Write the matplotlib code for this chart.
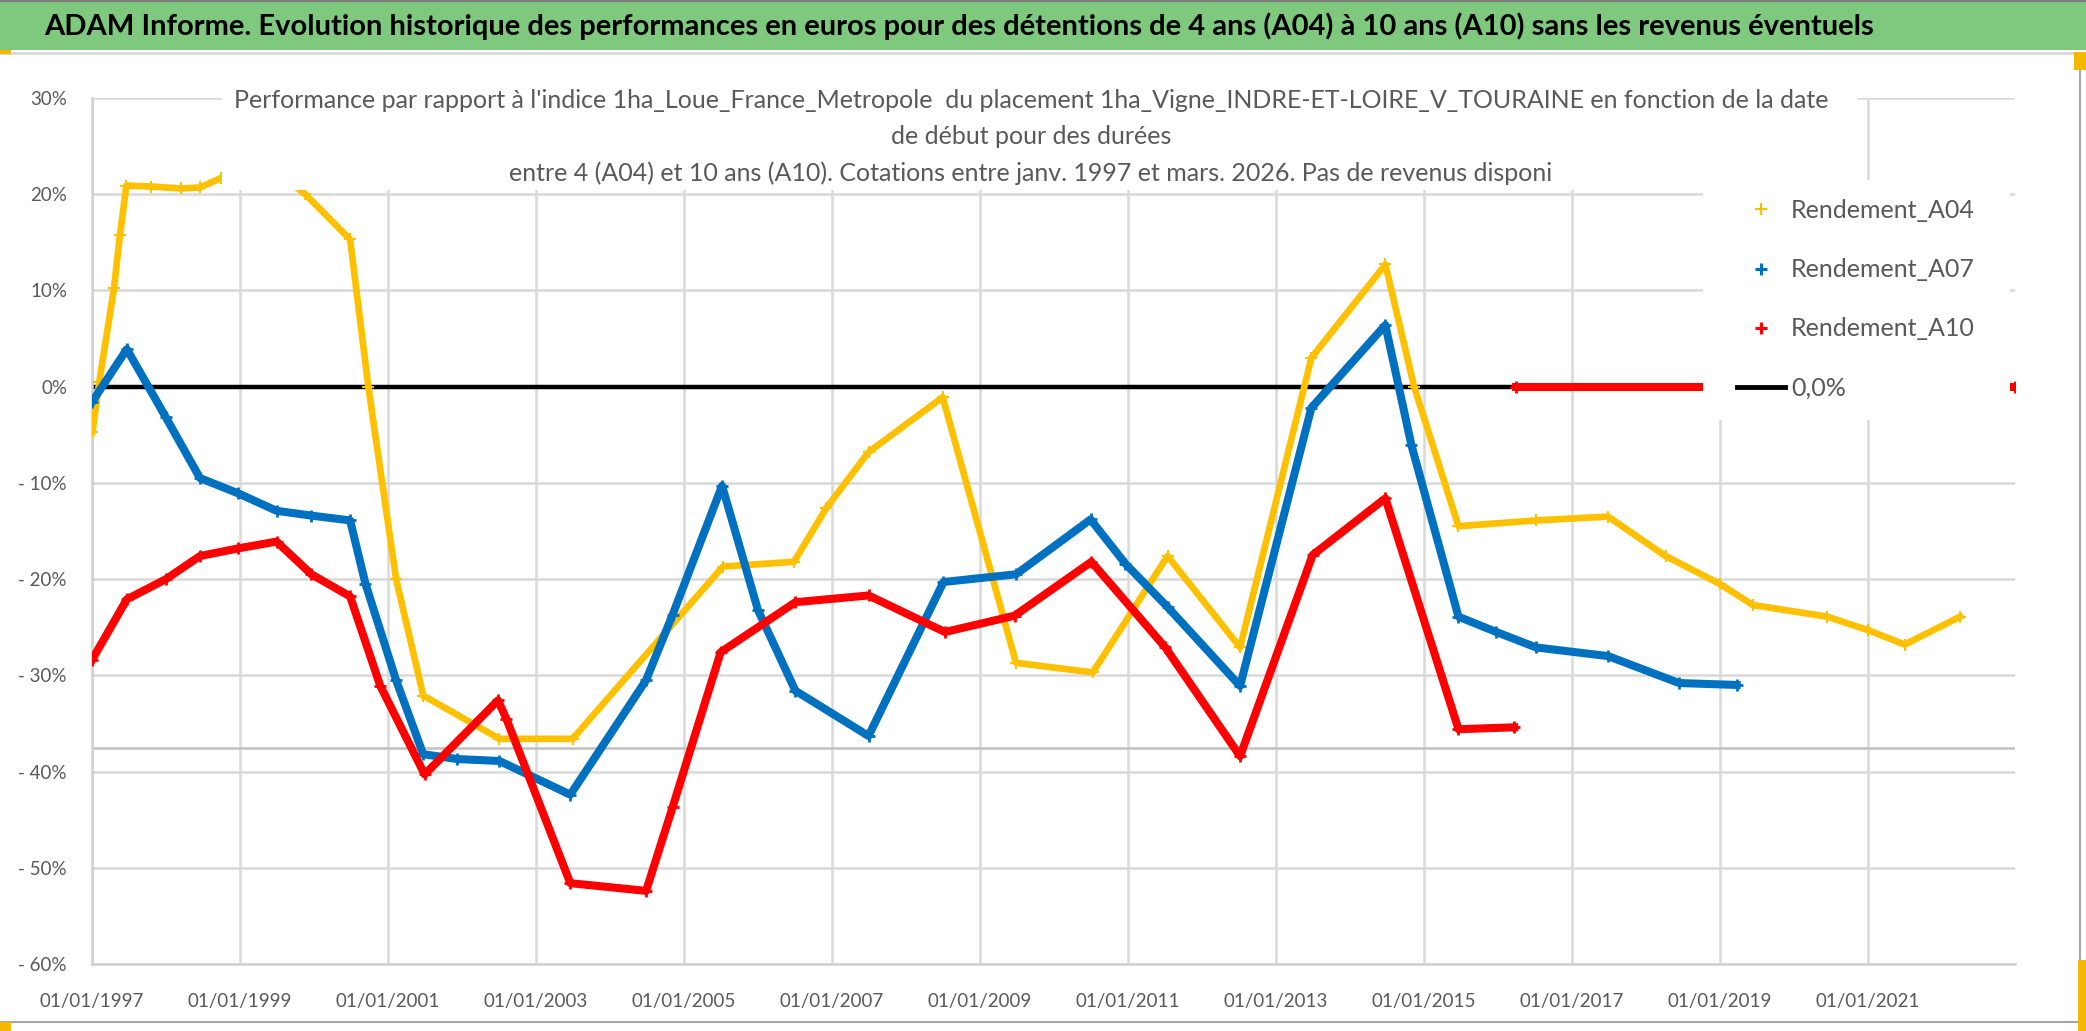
import matplotlib
matplotlib.use("Agg")
import matplotlib.pyplot as plt
import matplotlib.dates as mdates
from matplotlib.patches import Rectangle
from matplotlib.lines import Line2D
from datetime import date

plt.rcParams["font.family"] = ["Lato", "DejaVu Sans"]

# ---- data (percent) ----
a04_dates = ["1997-01-03", "1997-02-06", "1997-04-20", "1997-05-19", "1997-06-20", "1997-10-20",
             "1998-03-15", "1998-06-18", "1998-10-01", "1999-04-20", "1999-11-20", "2000-06-28",
             "2000-09-26", "2001-02-10", "2001-06-24", "2002-07-05", "2003-07-01", "2005-07-12",
             "2006-06-28", "2006-12-05", "2007-07-01", "2008-07-01", "2009-06-28", "2010-07-12",
             "2011-07-16", "2012-07-08", "2013-06-25", "2014-06-25", "2014-11-14", "2015-06-21",
             "2016-07-08", "2017-06-28", "2018-04-08", "2019-01-01", "2019-06-14", "2020-06-14",
             "2021-01-01", "2021-07-01", "2022-04-01"]
a04_values = [-4.7, 0.5, 10.3, 15.8, 20.9, 20.8,
              20.6, 20.7, 21.7, 23.5, 20.0, 15.3,
              0.0, -20.0, -32.1, -36.6, -36.6, -18.7,
              -18.2, -12.6, -6.8, -1.1, -28.7, -29.7,
              -17.6, -27.1, 3.0, 12.7, 0.0, -14.5,
              -13.9, -13.5, -17.6, -20.5, -22.7, -23.9,
              -25.3, -26.8, -23.9]

a07_dates = ["1997-01-01", "1997-06-22", "1998-01-01", "1998-06-18", "1998-12-25", "1999-07-01",
             "1999-12-20", "2000-06-28", "2000-09-12", "2001-02-10", "2001-06-24", "2001-12-10",
             "2002-07-05", "2003-06-20", "2004-06-28", "2004-11-06", "2005-07-08", "2006-01-01",
             "2006-07-05", "2007-07-01", "2008-07-05", "2009-06-28", "2010-07-01", "2010-12-20",
             "2011-07-16", "2012-07-08", "2013-06-25", "2014-06-25", "2014-11-01", "2015-06-21",
             "2015-12-25", "2016-07-08", "2017-06-28", "2018-06-14", "2019-03-25"]
a07_values = [-1.6, 3.9, -3.2, -9.5, -11.1, -12.9,
              -13.4, -13.9, -20.5, -30.5, -38.2, -38.7,
              -38.9, -42.4, -30.5, -23.7, -10.3, -23.2,
              -31.6, -36.3, -20.3, -19.5, -13.8, -18.4,
              -22.9, -31.1, -2.2, 6.4, -6.1, -23.9,
              -25.5, -27.1, -28.0, -30.8, -31.0]

a10_dates = ["1997-01-01", "1997-06-22", "1998-01-01", "1998-06-18", "1998-12-25", "1999-07-01",
             "1999-12-20", "2000-06-28", "2000-11-24", "2001-07-01", "2002-06-28", "2002-08-08",
             "2003-06-20", "2004-06-28", "2004-11-06", "2005-07-01", "2006-07-05", "2007-07-01",
             "2008-07-12", "2009-06-21", "2010-07-05", "2011-07-05", "2012-07-08", "2013-07-01",
             "2014-06-25", "2015-06-21", "2016-03-22"]
a10_values = [-28.4, -22.1, -20.0, -17.6, -16.8, -16.1,
              -19.5, -21.8, -31.1, -40.3, -32.6, -34.5,
              -51.6, -52.4, -43.7, -27.6, -22.4, -21.7,
              -25.5, -23.8, -18.2, -27.1, -38.4, -17.5,
              -11.6, -35.6, -35.4]
# A10 has no quotation after march 2016: plotted at 0
a10_zero_dates = ["2016-03-29", "2022-12-27"]
a10_zero_values = [0.0, 0.0]

zero_dates = ["1997-01-01", "2022-12-27"]
zero_values = [0.0, 0.0]

tick_years = list(range(1997, 2022, 2))
y_ticks = [30, 20, 10, 0, -10, -20, -30, -40, -50, -60]


def to_dates(lst):
    return [date.fromisoformat(s) for s in lst]


W, H = 2086, 1031
fig = plt.figure(figsize=(W / 100, H / 100), dpi=100)
fig.patch.set_facecolor("white")

# header band
fig.patches.append(Rectangle((0, 1 - 50 / H), 1, 50 / H, transform=fig.transFigure,
                             facecolor="#7fc97f", edgecolor="none", zorder=0))
fig.add_artist(Line2D([0, 1], [1 - 1 / H, 1 - 1 / H], color="#7f7f7f", lw=1.5))
fig.add_artist(Line2D([0, 1], [1 - 53 / H, 1 - 53 / H], color="#d9d9d9", lw=2))
fig.add_artist(Line2D([2080 / W, 2080 / W], [1 - 55 / H, 1 - 1022 / H], color="#a6a6a6", lw=1.5))
fig.add_artist(Line2D([0, 2080 / W], [1 - 1022 / H, 1 - 1022 / H], color="#a6a6a6", lw=1.5))
for (x0, y0, w, h) in [(0, 50, 11, 4), (2074, 52, 12, 18), (2078, 960, 8, 71), (0, 1022, 11, 9)]:
    fig.patches.append(Rectangle((x0 / W, 1 - (y0 + h) / H), w / W, h / H, transform=fig.transFigure,
                                 facecolor="#f5b800", edgecolor="none", zorder=2))

fig.text(959 / W, 1 - 26 / H,
         "ADAM Informe. Evolution historique des performances en euros pour des détentions de 4 ans (A04) "
         "à 10 ans (A10) sans les revenus éventuels",
         ha="center", va="center", fontsize=21, fontweight="bold", color="black")

ax = fig.add_axes([92 / W, 1 - 964 / H, (2015 - 92) / W, (964 - 98) / H])

ax.plot(to_dates(zero_dates), zero_values, color="black", lw=3.2, zorder=2)
ax.plot(to_dates(a04_dates), a04_values, color="#ffc000", lw=4.8, marker="+", ms=8, mew=1.5, zorder=3)
ax.plot(to_dates(a07_dates), a07_values, color="#0070c0", lw=5.8, marker="+", ms=8, mew=2, zorder=4)
ax.plot(to_dates(a10_dates), a10_values, color="#ff0000", lw=5.8, marker="+", ms=8, mew=2, zorder=5)
ax.plot(to_dates(a10_zero_dates), a10_zero_values, color="#ff0000", lw=5.8, marker="+", ms=8, mew=2,
        zorder=5)

ax.axhline(-37.5, color="#c0c0c0", lw=1.8, zorder=1)

ax.set_xlim(date(1997, 1, 1), date(2022, 12, 28))
ax.set_ylim(-60, 30)
ax.set_xticks([date(y, 1, 1) for y in tick_years])
ax.xaxis.set_major_formatter(mdates.DateFormatter("%d/%m/%Y"))
ax.set_yticks(y_ticks)
ax.set_yticklabels([f"{v}%" if v >= 0 else f"- {abs(v)}%" for v in y_ticks])
ax.grid(True, color="#d9d9d9", lw=1.8, zorder=0)
ax.set_axisbelow(True)
for side in ["top", "right"]:
    ax.spines[side].set_visible(False)
for side in ["left", "bottom"]:
    ax.spines[side].set_color("#d0d0d0")
    ax.spines[side].set_linewidth(1.8)
ax.tick_params(length=0, labelsize=13.5, labelcolor="#595959")
ax.tick_params(axis="x", pad=21)
ax.tick_params(axis="y", pad=18)

# chart title with white background covering the plot
fig.patches.append(Rectangle((222 / W, 1 - 190 / H), (1857 - 222) / W, (190 - 60) / H,
                             transform=fig.transFigure, facecolor="white", edgecolor="none", zorder=3))
fig.text(1031 / W, 1 - 137 / H,
         "Performance par rapport à l'indice 1ha_Loue_France_Metropole  du placement "
         "1ha_Vigne_INDRE-ET-LOIRE_V_TOURAINE en fonction de la date\nde début pour des durées\n"
         "entre 4 (A04) et 10 ans (A10). Cotations entre janv. 1997 et mars. 2026. Pas de revenus disponi",
         ha="center", va="center", fontsize=18, color="#595959", linespacing=1.7, zorder=4)

# legend area
fig.patches.append(Rectangle((1703 / W, 1 - 420 / H), (2010 - 1703) / W, (420 - 180) / H,
                             transform=fig.transFigure, facecolor="white", edgecolor="none", zorder=3))
handles = [
    Line2D([], [], color="#ffc000", lw=0, marker="+", ms=9, mew=1.5),
    Line2D([], [], color="#0070c0", lw=0, marker="+", ms=8, mew=2.2),
    Line2D([], [], color="#ff0000", lw=0, marker="+", ms=8, mew=2.2),
    Line2D([], [], color="black", lw=3.5),
]
labels = ["Rendement_A04", "Rendement_A07", "Rendement_A10", "0,0%"]
leg = fig.legend(handles, labels, loc="upper left", bbox_to_anchor=(1737 / W, 1 - 199 / H),
                 frameon=False, fontsize=18, labelcolor="#595959", handlelength=1.9,
                 handletextpad=0.25, labelspacing=1.45, borderpad=0, borderaxespad=0)
leg.set_zorder(5)

fig.savefig("out.png", dpi=100)
